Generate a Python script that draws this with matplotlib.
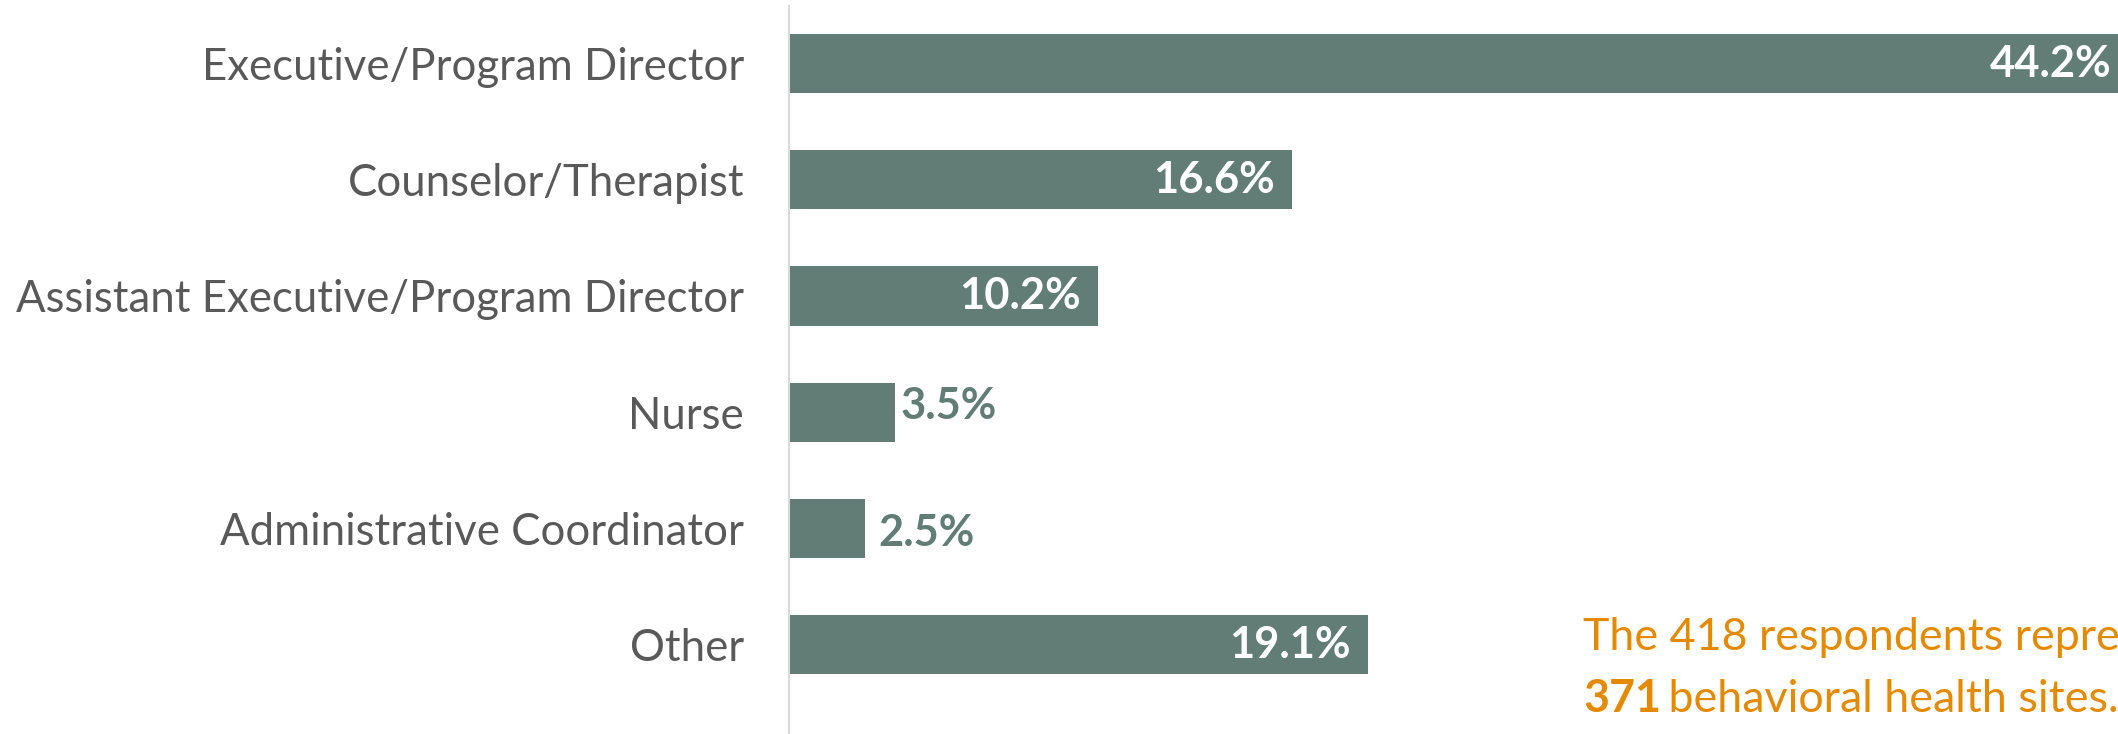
import matplotlib
matplotlib.use("Agg")
import matplotlib.pyplot as plt
from matplotlib.textpath import TextPath
from matplotlib.font_manager import FontProperties

# data
roles = ["Executive/Program Director", "Counselor/Therapist",
         "Assistant Executive/Program Director", "Nurse",
         "Administrative Coordinator", "Other"]
shares = [44.2, 16.6, 10.2, 3.5, 2.5, 19.1]
note_line1 = "The 418 respondents represent"
note_bold = "371"
note_line2 = " behavioral health sites."

BAR = "#617D75"
GREY = "#595959"
ORANGE = "#E38A00"
FONT = "Lato"
W, H, DPI = 2118, 734, 100


def size_for_width(text, px, weight="normal"):
    # font size (pt) that makes text roughly px pixels wide
    tp = TextPath((0, 0), text, size=100, prop=FontProperties(family=FONT, weight=weight))
    w = tp.get_extents().width
    return 100 * px / w * 72 / DPI


plt.rcParams["font.family"] = [FONT, "DejaVu Sans"]

fig = plt.figure(figsize=(W / DPI, H / DPI), dpi=DPI)
x0 = 789
ax = fig.add_axes([x0 / W, 0, 1 - x0 / W, (H - 5.5) / H])
ax.set_xlim(0, (W - x0) / 30.3)
ax.set_ylim(5.77, -0.5)

ypos = list(range(len(roles)))
bars = ax.barh(ypos, shares, height=0.51, color=BAR, clip_on=True)

cat_size = size_for_width("Assistant Executive/Program Director", 728)
ax.set_yticks(ypos)
ax.set_yticklabels(roles, fontsize=cat_size, color=GREY)
ax.tick_params(axis="y", length=0, pad=45 * 72 / DPI)
ax.set_xticks([])
for s in ["top", "right", "bottom"]:
    ax.spines[s].set_visible(False)
ax.spines["left"].set_color("#D9D9D9")
ax.spines["left"].set_linewidth(1.5)

val_size = size_for_width("16.6%", 117, "bold")
outside_dy = {3: 6, 4: -5}
for i, v in enumerate(shares):
    lab = f"{v:.1f}%"
    if v > 5:
        ax.annotate(lab, (v, i), xytext=(-17 * 72 / DPI, 0), textcoords="offset points",
                    ha="right", va="center", color="white", fontsize=val_size,
                    fontweight="bold", annotation_clip=False)
    else:
        dx = 5 if i == 3 else 14
        ax.annotate(lab, (v, i), xytext=(dx * 72 / DPI, outside_dy[i] * 72 / DPI),
                    textcoords="offset points", ha="left", va="center", color=BAR,
                    fontsize=val_size, fontweight="bold", annotation_clip=False)

note_size = size_for_width("The 418 respondents repre", 535)
fig.text(1583 / W, 1 - 650 / H, note_line1, color=ORANGE, fontsize=note_size,
         ha="left", va="baseline")
t = fig.text(1583 / W, 1 - 712 / H, note_bold, color=ORANGE, fontsize=note_size,
             fontweight="bold", ha="left", va="baseline")
bold_w = TextPath((0, 0), note_bold, size=100,
                  prop=FontProperties(family=FONT, weight="bold")).get_extents().width
bold_px = bold_w * note_size / 100 * DPI / 72
fig.text((1583 + bold_px) / W, 1 - 712 / H, note_line2, color=ORANGE,
         fontsize=note_size, ha="left", va="baseline")

fig.savefig("out.png", dpi=DPI)
